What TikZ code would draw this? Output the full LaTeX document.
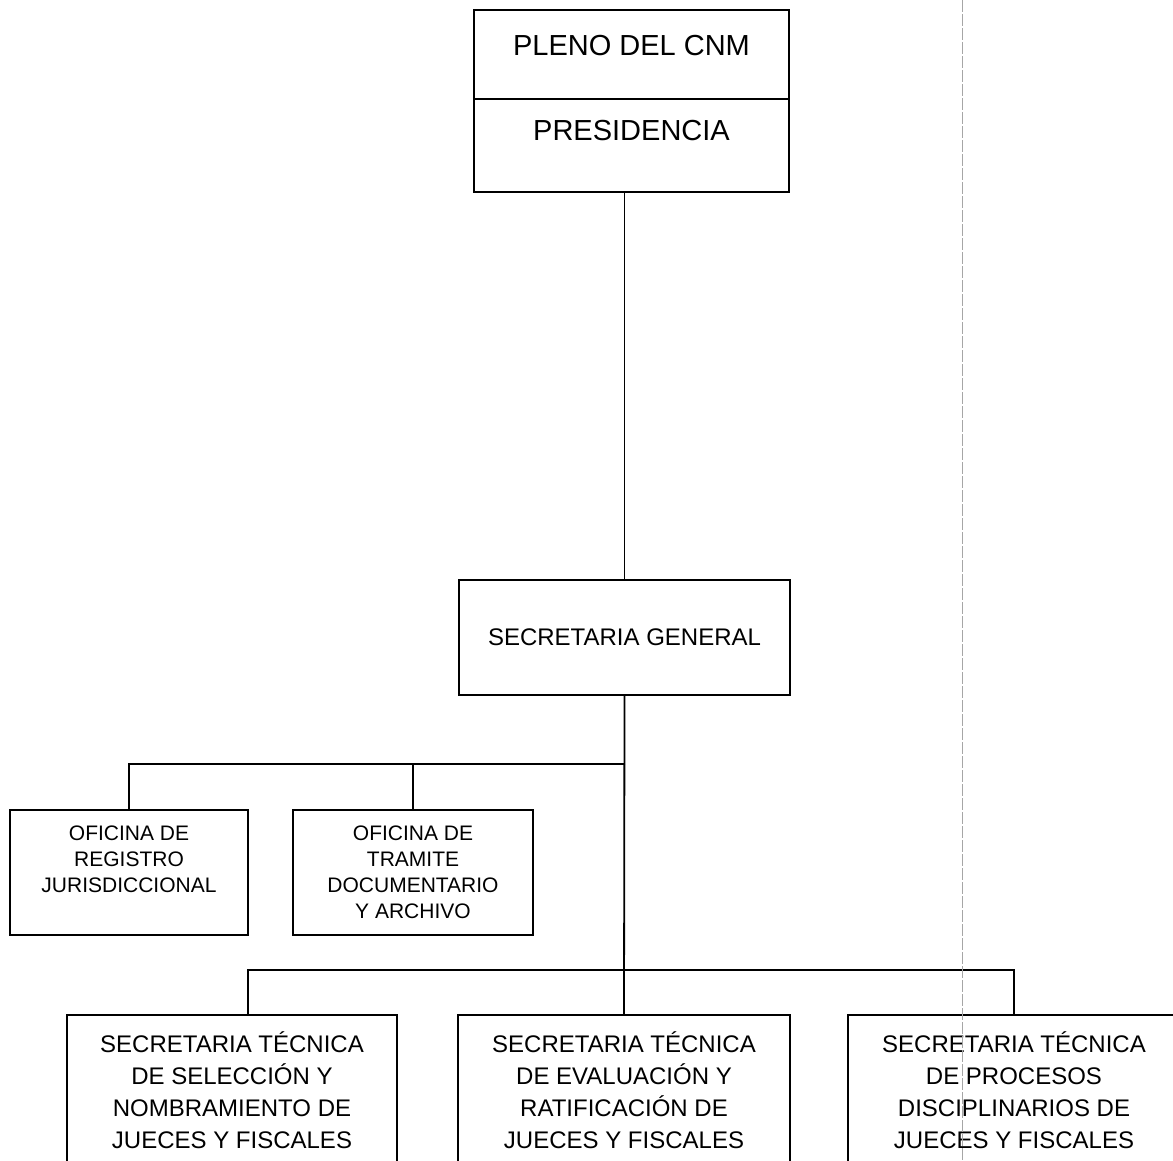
\documentclass[tikz,border=0pt]{standalone}
\usepackage{fontspec}
\setmainfont{Liberation Sans}

\begin{document}
\begin{tikzpicture}[x=0.5pt,y=-0.5pt,
    unit/.style={draw,line width=0.9pt,inner sep=0pt,align=center},
    big/.style={font=\fontsize{14.5}{17}\selectfont},
    mid/.style={font=\fontsize{12}{16}\selectfont},
    small/.style={font=\fontsize{10.5}{13}\selectfont},
    wire/.style={line width=0.9pt}]
  \def\spine{625};
  \def\barA{764};
  \def\barB{970};
  \clip (0,0) rectangle (1173,1161);
  % top block
  \node[unit,big,minimum width=157.5pt,minimum height=44.5pt,text depth=9.5pt] (pleno) at (631.5,54.5) {PLENO DEL CNM};
  \node[unit,big,minimum width=157.5pt,minimum height=46.5pt,text depth=15pt] (presid) at (631.5,145.5) {PRESIDENCIA};
  \node[unit,mid,minimum width=165.5pt,minimum height=57.5pt] (secgen) at (624.5,637.5) {SECRETARIA GENERAL};
  % offices
  \node[unit,small,minimum width=119pt,minimum height=62.5pt,text depth=13pt] (ofreg) at (129,872.5) {OFICINA DE\\REGISTRO\\JURISDICCIONAL};
  \node[unit,small,minimum width=120pt,minimum height=62.5pt] (oftram) at (413,872.5) {OFICINA DE\\TRAMITE\\DOCUMENTARIO\\Y ARCHIVO};
  % technical secretariats (cut at the bottom)
  \node[unit,mid,minimum width=165pt,minimum height=75pt] (stsel) at (232,1090) {SECRETARIA T\'ECNICA\\DE SELECCI\'ON Y\\NOMBRAMIENTO DE\\JUECES Y FISCALES};
  \node[unit,mid,minimum width=166pt,minimum height=75pt] (steva) at (624,1090) {SECRETARIA T\'ECNICA\\DE EVALUACI\'ON Y\\RATIFICACI\'ON DE\\JUECES Y FISCALES};
  \node[unit,mid,minimum width=166pt,minimum height=75pt] (stdis) at (1014,1090) {SECRETARIA T\'ECNICA\\DE PROCESOS\\DISCIPLINARIOS DE\\JUECES Y FISCALES};
  % links
  \coordinate (ja) at (\spine,\barA);
  \coordinate (jb) at (\spine,\barB);
  \draw[wire] (secgen.north |- presid.south) -- (secgen.north);
  \draw[wire] (secgen.south) -- (steva.north);
  \draw[wire] (ja) -| (ofreg.north);
  \draw[wire] (ja) -| (oftram.north);
  \draw[wire] (jb) -| ([xshift=8pt]stsel.north);
  \draw[wire] (jb) -| (stdis.north);
  % fold mark
  \draw[gray!70,line width=0.5pt,dash pattern=on 6pt off 1pt] (962,0) -- (962,1161);
\end{tikzpicture}
\end{document}
